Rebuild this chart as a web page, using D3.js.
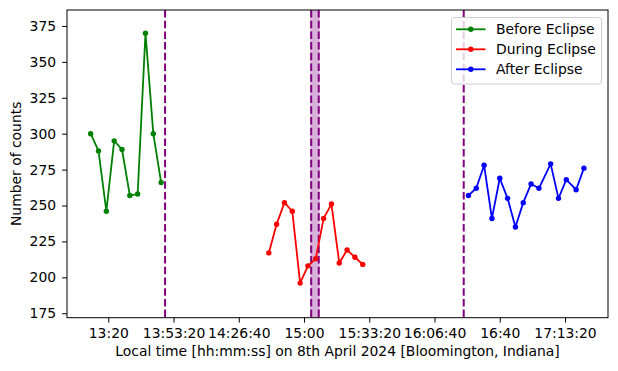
<!DOCTYPE html>
<html lang="en">
<head>
<meta charset="UTF-8">
<title>Counts during the eclipse</title>
<script src="https://d3js.org/d3.v7.min.js"></script>
<style>
    body { margin: 0; background: #fff; }
    svg text { font-family: "DejaVu Sans", sans-serif; fill: #000; }
    .axis text { font-size: 13.9px; }
    .axis path, .axis line { stroke: #000; stroke-width: 1; }
</style>
</head>
<body>
<div id="chart"></div>
<script>
    // Datos (hora local, cuentas)
    const beforeTimes = ["13:11", "13:15", "13:19", "13:23", "13:27", "13:31", "13:35", "13:39", "13:43", "13:47"];
    const beforeCounts = [300, 288, 246, 295, 289, 257, 258, 370, 300, 266];

    const duringTimes = ["14:42", "14:46", "14:50", "14:54", "14:58", "15:02", "15:06", "15:10", "15:14", "15:18", "15:22", "15:26", "15:30"];
    const duringCounts = [217, 237, 252, 246, 196, 208, 213, 241, 251, 210, 219, 214, 209];

    const afterTimes = ["16:24", "16:28", "16:32", "16:36", "16:40", "16:44", "16:48", "16:52", "16:56", "17:00", "17:06", "17:10", "17:14", "17:19", "17:23"];
    const afterCounts = [257, 262, 278, 241, 269, 255, 235, 252, 265, 262, 279, 255, 268, 261, 276];

    // Contactos del eclipse
    const contactLines = ["13:49:00", "16:21:35"];
    const totality = ["15:03:40", "15:07:30"];

    const xTicks = ["13:20", "13:53:20", "14:26:40", "15:00", "15:33:20", "16:06:40", "16:40", "17:13:20"];
    const yTicks = [175, 200, 225, 250, 275, 300, 325, 350, 375];

    const series = [
        { name: "Before Eclipse", color: "#008000", times: beforeTimes, counts: beforeCounts },
        { name: "During Eclipse", color: "#ff0000", times: duringTimes, counts: duringCounts },
        { name: "After Eclipse", color: "#0000ff", times: afterTimes, counts: afterCounts }
    ];

    function toSec(s) {
        const p = s.split(":").map(Number);
        return p[0] * 3600 + p[1] * 60 + (p[2] || 0);
    }
    function fmt(sec) {
        const h = Math.floor(sec / 3600);
        const m = Math.floor((sec % 3600) / 60);
        const s = Math.round(sec % 60);
        const mm = String(m).padStart(2, "0");
        return s === 0 ? `${h}:${mm}` : `${h}:${mm}:${String(s).padStart(2, "0")}`;
    }

    const width = 618, height = 371;
    const m = { left: 67, right: 608, top: 10, bottom: 317.7 };

    const svg = d3.select("#chart").append("svg")
        .attr("width", width)
        .attr("height", height);

    const x = d3.scaleLinear().domain([46734, 63318]).range([m.left, m.right]);
    const y = d3.scaleLinear().domain([171.9, 386.1]).range([m.bottom, m.top]);

    const plot = svg.append("g");

    // Totalidad (banda sombreada)
    const t0 = toSec(totality[0]), t1 = toSec(totality[1]);
    plot.append("rect")
        .attr("x", x(t0) - 1)
        .attr("y", m.top)
        .attr("width", x(t1) - x(t0) + 2)
        .attr("height", m.bottom - m.top)
        .attr("fill", "#800080")
        .attr("fill-opacity", 0.3);

    // Líneas verticales discontinuas
    const vlines = contactLines.concat(totality);
    plot.selectAll(".vline")
        .data(vlines)
        .enter()
        .append("line")
        .attr("class", "vline")
        .attr("x1", d => x(toSec(d)))
        .attr("x2", d => x(toSec(d)))
        .attr("y1", m.top)
        .attr("y2", m.bottom)
        .attr("stroke", "#800080")
        .attr("stroke-width", 2)
        .attr("stroke-dasharray", "7.5,3.2");

    const line = d3.line()
        .x(d => x(d[0]))
        .y(d => y(d[1]));

    series.forEach(s => {
        const pts = s.times.map((t, i) => [toSec(t), s.counts[i]]);
        plot.append("path")
            .datum(pts)
            .attr("d", line)
            .attr("fill", "none")
            .attr("stroke", s.color)
            .attr("stroke-width", 1.8)
            .attr("stroke-linejoin", "round");
        plot.selectAll(null)
            .data(pts)
            .enter()
            .append("circle")
            .attr("cx", d => x(d[0]))
            .attr("cy", d => y(d[1]))
            .attr("r", 2.7)
            .attr("fill", s.color);
    });

    // Ejes
    const xAxis = d3.axisBottom(x)
        .tickValues(xTicks.map(toSec))
        .tickFormat(fmt)
        .tickSize(4.9)
        .tickPadding(6);
    svg.append("g")
        .attr("class", "axis")
        .attr("transform", `translate(0,${m.bottom})`)
        .call(xAxis)
        .call(g => g.select(".domain").remove());

    const yAxis = d3.axisLeft(y)
        .tickValues(yTicks)
        .tickSize(4.9)
        .tickPadding(6);
    svg.append("g")
        .attr("class", "axis")
        .attr("transform", `translate(${m.left},0)`)
        .call(yAxis)
        .call(g => g.select(".domain").remove());

    // Marco
    svg.append("rect")
        .attr("x", m.left)
        .attr("y", m.top)
        .attr("width", m.right - m.left)
        .attr("height", m.bottom - m.top)
        .attr("fill", "none")
        .attr("stroke", "#000")
        .attr("stroke-width", 1);

    // Etiquetas de ejes
    svg.append("text")
        .attr("x", (m.left + m.right) / 2)
        .attr("y", 356)
        .attr("text-anchor", "middle")
        .attr("font-size", "13.9px")
        .text("Local time [hh:mm:ss] on 8th April 2024 [Bloomington, Indiana]");

    svg.append("text")
        .attr("transform", `translate(21,${(m.top + m.bottom) / 2}) rotate(-90)`)
        .attr("text-anchor", "middle")
        .attr("font-size", "13.9px")
        .text("Number of counts");

    // Leyenda
    const legend = svg.append("g").attr("transform", "translate(451.5,17.5)");
    legend.append("rect")
        .attr("width", 150)
        .attr("height", 66.5)
        .attr("rx", 3)
        .attr("fill", "#fff")
        .attr("fill-opacity", 0.8)
        .attr("stroke", "#cccccc")
        .attr("stroke-width", 1);

    series.forEach((s, i) => {
        const row = legend.append("g").attr("transform", `translate(0,${11.8 + i * 20})`);
        row.append("line")
            .attr("x1", 4.5).attr("x2", 34)
            .attr("y1", 0).attr("y2", 0)
            .attr("stroke", s.color)
            .attr("stroke-width", 1.8);
        row.append("circle")
            .attr("cx", 19.3).attr("cy", 0)
            .attr("r", 2.7)
            .attr("fill", s.color);
        row.append("text")
            .attr("x", 44.5)
            .attr("y", 0)
            .attr("dy", "0.35em")
            .attr("font-size", "13.9px")
            .text(s.name);
    });
</script>
</body>
</html>
